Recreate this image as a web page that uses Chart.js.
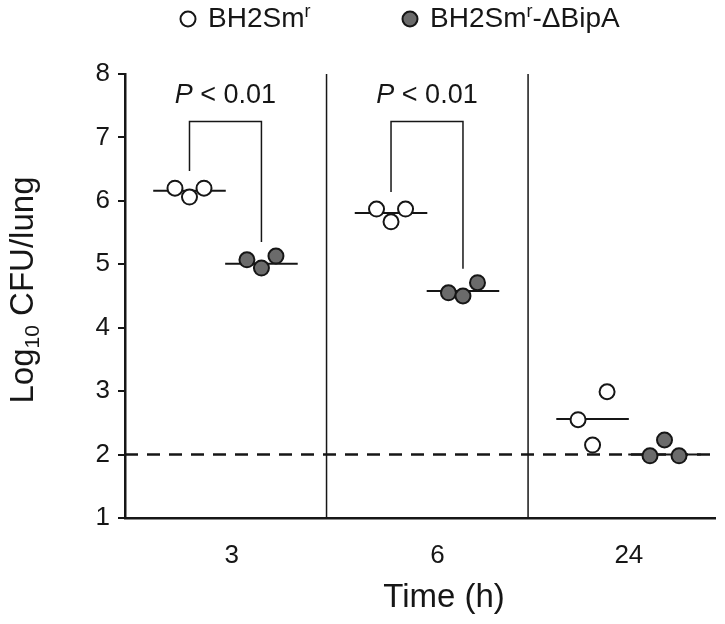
<!DOCTYPE html>
<html>
<head>
<meta charset="utf-8">
<script src="https://cdn.jsdelivr.net/npm/chart.js@4.4.0/dist/chart.umd.min.js"></script>
<style>
    html, body { margin: 0; padding: 0; background: #fff; }
    #wrap { width: 725px; height: 624px; }
</style>
</head>
<body>
<div id="wrap"><canvas id="cfuChart"></canvas></div>
<script>
// Time points, the group centres on the x axis and where their labels sit
const timeLabels = ['3', '6', '24'];
const groupCenters = [0.5, 1.5, 2.5];
const labelPositions = [0.53, 1.55, 2.5];

// Log10 CFU per lung, three mice per group
const wildType = [[6.20, 6.06, 6.20], [5.87, 5.67, 5.87], [2.55, 2.15, 2.99]];
const mutant = [[5.07, 4.94, 5.13], [4.55, 4.50, 4.71], [1.98, 2.23, 1.98]];
const wildMeans = [6.16, 5.81, 2.56];
const mutantMeans = [5.01, 4.58, 2.00];

const detectionLimit = 2;
const pLabels = ['< 0.01', '< 0.01', null];
const bracketTop = 7.25;

const ink = '#161616';
const darkFill = '#6b6b6b';
const font = '"Liberation Sans", Arial, sans-serif';

const wildShift = -0.18;
const mutantShift = 0.177;
const jitter = [-0.072, 0, 0.072];
const meanHalf = 0.18;

function pointsFor(values, shift) {
    const pts = [];
    values.forEach((vals, g) => {
        vals.forEach((v, i) => pts.push({ x: groupCenters[g] + shift + jitter[i], y: v }));
    });
    return pts;
}

function segment(x1, x2, y1, y2, width, dash) {
    return {
        data: [{ x: x1, y: y1 }, { x: x2, y: y2 }],
        showLine: true,
        borderColor: ink,
        borderWidth: width,
        borderDash: dash || [],
        pointRadius: 0,
        order: 5
    };
}

const datasets = [
    {
        label: 'BH2Smr',
        data: pointsFor(wildType, wildShift),
        backgroundColor: '#ffffff',
        borderColor: ink,
        borderWidth: 2,
        pointRadius: 7.5,
        order: 1
    },
    {
        label: 'BH2Smr-ΔBipA',
        data: pointsFor(mutant, mutantShift),
        backgroundColor: darkFill,
        borderColor: ink,
        borderWidth: 2,
        pointRadius: 7.5,
        order: 1
    }
];

// mean bars
groupCenters.forEach((c, g) => {
    datasets.push(segment(c + wildShift - meanHalf, c + wildShift + meanHalf, wildMeans[g], wildMeans[g], 2));
    datasets.push(segment(c + mutantShift - meanHalf, c + mutantShift + meanHalf, mutantMeans[g], mutantMeans[g], 2));
});

// dividers between time points
[1, 2].forEach(x => datasets.push(segment(x, x, 1, 8, 1.5)));

// detection limit
datasets.push(segment(0, 2.93, detectionLimit, detectionLimit, 2.5, [13, 9]));

// significance brackets
pLabels.forEach((p, g) => {
    if (!p) return;
    const xl = groupCenters[g] + wildShift;
    const xr = groupCenters[g] + mutantShift;
    const yl = Math.max(...wildType[g]) + 0.27;
    const yr = Math.max(...mutant[g]) + 0.22;
    datasets.push({
        data: [{ x: xl, y: yl }, { x: xl, y: bracketTop }, { x: xr, y: bracketTop }, { x: xr, y: yr }],
        showLine: true,
        borderColor: ink,
        borderWidth: 1.5,
        pointRadius: 0,
        order: 5
    });
});

function drawRich(ctx, parts, x, y) {
    let cx = x;
    parts.forEach(p => {
        ctx.font = (p.italic ? 'italic ' : '') + p.size + 'px ' + font;
        ctx.fillText(p.t, cx, y + (p.dy || 0));
        cx += ctx.measureText(p.t).width;
    });
    return cx - x;
}

function richWidth(ctx, parts) {
    let w = 0;
    parts.forEach(p => {
        ctx.font = (p.italic ? 'italic ' : '') + p.size + 'px ' + font;
        w += ctx.measureText(p.t).width;
    });
    return w;
}

const decorations = {
    id: 'decorations',
    afterDraw(chart) {
        const ctx = chart.ctx;
        const xs = chart.scales.x;
        const ys = chart.scales.y;
        ctx.save();
        ctx.fillStyle = ink;
        ctx.textBaseline = 'alphabetic';
        ctx.textAlign = 'left';

        // legend
        const wildParts = [{ t: 'BH2Sm', size: 28 }, { t: 'r', size: 18, dy: -10 }];
        const mutParts = [{ t: 'BH2Sm', size: 28 }, { t: 'r', size: 18, dy: -10 }, { t: '-ΔBipA', size: 28 }];
        [[208, wildParts, '#ffffff'], [430, mutParts, darkFill]].forEach(([sx, parts, fill]) => {
            ctx.beginPath();
            ctx.arc(sx - 20, 19, 7.5, 0, Math.PI * 2);
            ctx.fillStyle = fill;
            ctx.fill();
            ctx.lineWidth = 2;
            ctx.strokeStyle = ink;
            ctx.stroke();
            ctx.fillStyle = ink;
            drawRich(ctx, parts, sx, 27);
        });

        // P values above brackets
        pLabels.forEach((p, g) => {
            if (!p) return;
            const cx = xs.getPixelForValue(groupCenters[g] + (wildShift + mutantShift) / 2);
            const y = ys.getPixelForValue(bracketTop) - 19;
            const parts = [{ t: 'P', size: 27, italic: true }, { t: ' ' + p, size: 27 }];
            drawRich(ctx, parts, cx - richWidth(ctx, parts) / 2, y);
        });

        // x axis title
        const xTitle = [{ t: 'Time (h)', size: 33 }];
        drawRich(ctx, xTitle, 444 - richWidth(ctx, xTitle) / 2, 607);

        // y axis title with subscript
        const titleParts = [{ t: 'Log', size: 33 }, { t: '10', size: 21, dy: 6 }, { t: ' CFU/lung', size: 33 }];
        ctx.translate(33, 290);
        ctx.rotate(-Math.PI / 2);
        drawRich(ctx, titleParts, -richWidth(ctx, titleParts) / 2, 0);
        ctx.restore();
    }
};

new Chart(document.getElementById('cfuChart'), {
    type: 'scatter',
    data: { datasets: datasets },
    options: {
        responsive: true,
        maintainAspectRatio: false,
        animation: false,
        layout: { padding: { top: 74, right: 7, left: 0, bottom: 0 } },
        plugins: {
            legend: { display: false },
            tooltip: { enabled: false }
        },
        scales: {
            x: {
                type: 'linear',
                min: 0,
                max: 2.93,
                afterBuildTicks: function(scale) {
                    scale.ticks = labelPositions.map(v => ({ value: v }));
                },
                afterFit: function(scale) { scale.height = 106; },
                ticks: {
                    autoSkip: false,
                    maxRotation: 0,
                    padding: 14,
                    color: ink,
                    font: { family: font, size: 26 },
                    callback: function(value, index) { return timeLabels[index]; }
                },
                grid: { display: false },
                border: { display: true, color: ink, width: 2.5 }
            },
            y: {
                min: 1,
                max: 8,
                afterFit: function(scale) { scale.width = 125; },
                ticks: {
                    stepSize: 1,
                    padding: 8,
                    color: ink,
                    font: { family: font, size: 26 }
                },
                grid: { drawOnChartArea: false, drawTicks: true, tickLength: 7, color: ink, lineWidth: 2 },
                border: { display: true, color: ink, width: 2.5 }
            }
        }
    },
    plugins: [decorations]
});
</script>
</body>
</html>
